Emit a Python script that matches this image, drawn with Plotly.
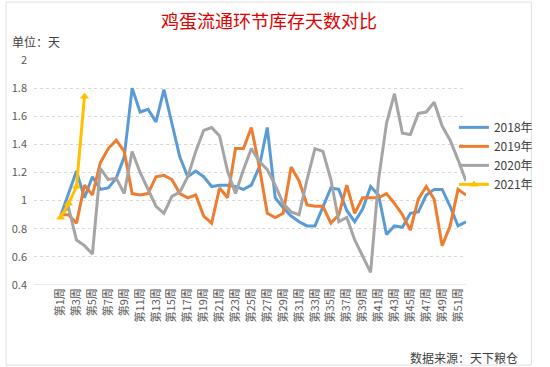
import plotly.graph_objects as go

weeks = [f"第{i}周" for i in range(1, 53)]
tick_weeks = weeks[::2]
y_ticks = [0.4, 0.6, 0.8, 1.0, 1.2, 1.4, 1.6, 1.8, 2.0]
y_tick_text = ["0.4", "0.6", "0.8", "1", "1.2", "1.4", "1.6", "1.8", "2"]

s2018 = [0.89, 1.05, 1.21, 1.02, 1.17, 1.08, 1.09, 1.16, 1.31, 1.80,
         1.63, 1.65, 1.56, 1.79, 1.55, 1.31, 1.17, 1.21, 1.17, 1.10,
         1.11, 1.11, 1.10, 1.08, 1.11, 1.24, 1.52, 1.02, 0.95, 0.89,
         0.85, 0.82, 0.82, 0.96, 1.09, 1.08, 0.93, 0.85, 0.94, 1.10,
         1.04, 0.76, 0.82, 0.81, 0.91, 0.92, 1.04, 1.08, 1.08, 0.96,
         0.82, 0.85]
s2019 = [0.90, 0.90, 0.84, 1.11, 1.04, 1.27, 1.37, 1.43, 1.35, 1.05,
         1.04, 1.05, 1.17, 1.18, 1.15, 1.05, 1.02, 1.04, 0.89, 0.84,
         1.09, 1.02, 1.37, 1.37, 1.52, 1.24, 0.91, 0.88, 0.91, 1.24,
         1.14, 0.97, 0.96, 0.96, 0.84, 0.90, 1.11, 0.91, 1.02, 1.02,
         1.02, 1.05, 0.98, 0.90, 0.79, 1.01, 1.10, 1.01, 0.68, 0.82,
         1.08, 1.04]
s2020 = [0.90, 0.95, 0.72, 0.68, 0.62, 1.23, 1.15, 1.16, 1.05, 1.35,
         1.20, 1.08, 0.96, 0.91, 1.03, 1.06, 1.17, 1.35, 1.50, 1.52,
         1.46, 1.21, 1.05, 1.22, 1.37, 1.28, 1.22, 1.11, 0.98, 0.92,
         0.90, 1.15, 1.37, 1.35, 1.15, 0.85, 0.88, 0.72, 0.61, 0.49,
         1.15, 1.55, 1.76, 1.48, 1.47, 1.62, 1.63, 1.70, 1.53, 1.43,
         1.29, 1.14]
s2021 = [0.88, 0.98, 1.10, 1.74]

series = [
    ("2018年", s2018, "#5B9BD5", None),
    ("2019年", s2019, "#ED7D31", None),
    ("2020年", s2020, "#A5A5A5", None),
    ("2021年", s2021, "#FFC000", "triangle-up"),
]

fig = go.Figure()
for name, vals, color, marker in series:
    fig.add_trace(go.Scatter(
        x=weeks[:len(vals)], y=vals, name=name,
        mode="lines+markers" if marker else "lines",
        line=dict(color=color, width=3),
        marker=dict(symbol=marker or "circle", size=8, color=color),
    ))

font_family = "Noto Sans CJK SC, Noto Sans, sans-serif"
fig.update_layout(
    width=550, height=367, autosize=False,
    margin=dict(l=31, r=70, t=60, b=82),
    paper_bgcolor="white", plot_bgcolor="white",
    font=dict(family=font_family, color="#595959", size=11),
    showlegend=True,
    legend=dict(x=0.972, y=0.765, xanchor="left", yanchor="top",
                font=dict(size=12, color="#404040"),
                bgcolor="rgba(0,0,0,0)", tracegroupgap=0),
    xaxis=dict(type="category", categoryorder="array", categoryarray=weeks,
               tickmode="array", tickvals=tick_weeks, ticktext=tick_weeks,
               tickangle=-90, showgrid=False, showline=False, zeroline=False,
               ticks="", tickfont=dict(size=11, color="#595959")),
    yaxis=dict(range=[0.4, 2.0], tickmode="array", tickvals=y_ticks,
               ticktext=y_tick_text, showgrid=True, gridcolor="#D9D9D9",
               griddash="dot", gridwidth=1, zeroline=False, showline=False,
               ticks="", ticklabelstandoff=6,
               tickfont=dict(size=11, color="#595959")),
    shapes=[
        dict(type="line", xref="paper", yref="y", x0=0, x1=1, y0=0.4, y1=0.4,
             line=dict(color="#D9D9D9", width=1)),
        dict(type="rect", xref="paper", yref="paper",
             x0=(2 - 31) / 449, x1=(548 - 31) / 449,
             y0=(285 - 365) / 225, y1=(285 - 2) / 225,
             line=dict(color="#E0E0E0", width=1), layer="below"),
    ],
    annotations=[
        dict(text="鸡蛋流通环节库存天数对比", xref="paper", yref="paper",
             x=(275 - 31) / 449, y=(285 - 20) / 225, xanchor="center", yanchor="middle",
             showarrow=False, font=dict(size=18, color="#E00000", family=font_family)),
        dict(text="单位：天", xref="paper", yref="paper",
             x=(7 - 31) / 449, y=(285 - 42) / 225, xanchor="left", yanchor="middle",
             showarrow=False, borderpad=0,
             font=dict(size=12, color="#404040", family=font_family)),
        dict(text="数据来源：天下粮仓", xref="paper", yref="paper",
             x=(536 - 31) / 449, y=(285 - 357) / 225, xanchor="right", yanchor="middle",
             showarrow=False, font=dict(size=12, color="#404040", family=font_family)),
    ],
)

fig.write_html("out.html", config={"displayModeBar": False},
               post_script="document.body.style.margin='0';")
